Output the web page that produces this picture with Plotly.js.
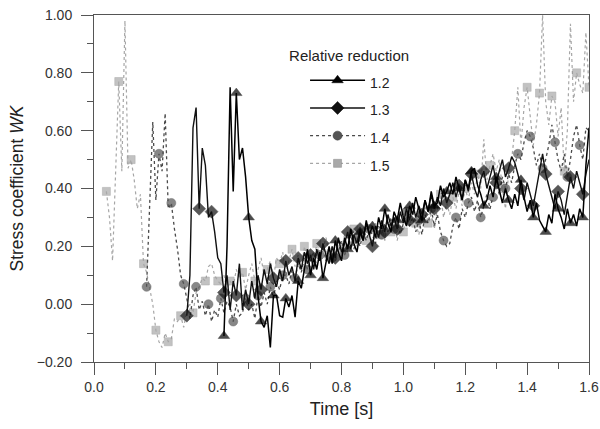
<!DOCTYPE html>
<html><head><meta charset="utf-8">
<script src="https://cdn.plot.ly/plotly-3.0.1.min.js"></script>
<style>html,body{margin:0;padding:0;background:#fff}</style>
</head><body>
<div id="chart" style="width:600px;height:429px"></div>
<script>
// ---- data ----
const seriesNames = ['1.2', '1.3', '1.4', '1.5'];
const timeStep = 0.01;

const start12 = 0.42;
const values12 = [
 -0.11,0.20,0.75,0.39,0.73,0.50,0.54,0.44,0.30,0.22,
 0.19,0.03,-0.06,-0.08,-0.04,-0.15,0.03,0.03,-0.04,-0.045,
 0.02,-0.01,0.03,-0.045,0.08,0.055,0.12,0.19,0.10,0.16,
 0.12,0.18,0.09,0.15,0.20,0.14,0.22,0.18,0.15,0.23,
 0.19,0.26,0.21,0.18,0.25,0.22,0.29,0.24,0.27,0.23,
 0.30,0.26,0.33,0.28,0.25,0.32,0.29,0.35,0.30,0.27,
 0.34,0.31,0.37,0.33,0.29,0.36,0.32,0.39,0.34,0.35,
 0.41,0.37,0.39,0.42,0.38,0.44,0.40,0.36,0.43,0.40,
 0.46,0.47,0.41,0.38,0.34,0.36,0.41,0.37,0.44,0.39,
 0.35,0.40,0.36,0.33,0.38,0.34,0.43,0.37,0.32,0.36,
 0.30,0.35,0.29,0.27,0.25,0.31,0.28,0.38,0.33,0.30,
 0.26,0.33,0.28,0.31,0.27,0.33,0.30,0.48,0.61
];

const start13 = 0.30;
const values13 = [
 -0.04,0.10,0.61,0.68,0.33,0.54,0.48,0.30,0.32,0.25,
 0.16,0.14,0.04,0.10,-0.02,0.08,0.03,0.14,-0.02,0.05,
 0.00,0.08,0.02,0.10,0.05,0.12,0.07,0.14,0.09,0.06,
 0.12,0.08,0.15,0.10,0.13,0.08,0.16,0.12,0.18,0.14,
 0.17,0.12,0.19,0.15,0.21,0.17,0.14,0.20,0.16,0.23,
 0.18,0.21,0.25,0.19,0.24,0.21,0.26,0.22,0.28,0.24,
 0.20,0.27,0.23,0.29,0.25,0.31,0.27,0.30,0.26,0.32,
 0.28,0.33,0.29,0.35,0.30,0.34,0.31,0.36,0.32,0.38,
 0.33,0.37,0.34,0.40,0.35,0.38,0.42,0.37,0.41,0.36,
 0.43,0.39,0.45,0.40,0.37,0.43,0.46,0.40,0.44,0.48,
 0.42,0.46,0.50,0.44,0.47,0.51,0.49,0.45,0.40,0.36,
 0.42,0.38,0.34,0.40,0.46,0.52,0.45,0.41,0.37,0.33,
 0.39,0.36,0.31,0.38,0.44,0.40,0.46,0.42,0.38,0.45,
 0.50
];

const start14 = 0.17;
const values14 = [
 0.06,0.35,0.63,0.36,0.52,0.46,0.66,0.33,0.35,0.26,
 0.19,0.10,0.07,0.02,-0.05,0.03,0.06,-0.02,0.01,-0.04,
 0.00,-0.06,-0.02,-0.045,0.02,-0.03,0.01,-0.01,-0.06,0.00,
 -0.04,-0.03,0.02,-0.02,0.00,-0.05,0.03,-0.01,0.04,0.00,
 0.06,0.02,0.08,0.05,0.10,0.10,0.07,0.12,0.09,0.14,
 0.11,0.16,0.12,0.15,0.18,0.13,0.17,0.20,0.15,0.19,
 0.16,0.21,0.18,0.22,0.17,0.20,0.24,0.19,0.23,0.20,
 0.25,0.22,0.26,0.24,0.21,0.27,0.24,0.28,0.25,0.30,
 0.26,0.29,0.24,0.28,0.32,0.27,0.30,0.25,0.29,0.24,
 0.31,0.28,0.33,0.27,0.31,0.25,0.22,0.20,0.21,0.27,
 0.30,0.26,0.33,0.30,0.35,0.37,0.32,0.36,0.30,0.34,
 0.38,0.33,0.37,0.42,0.38,0.44,0.40,0.45,0.42,0.48,
 0.52,0.50,0.56,0.60,0.58,0.54,0.48,0.52,0.47,0.50,
 0.55,0.62,0.56,0.50,0.46,0.52,0.44,0.50,0.58,0.62,
 0.55,0.50,0.61,0.60
];

const start15 = 0.04;
const values15 = [
 0.39,0.30,0.15,0.45,0.77,0.46,0.98,0.47,0.50,0.43,
 0.33,0.38,0.14,0.11,0.06,0.00,-0.09,-0.13,-0.15,-0.10,
 -0.13,-0.12,-0.05,-0.06,-0.04,-0.08,-0.02,0.00,-0.03,0.04,
 0.06,0.09,0.08,0.13,0.14,0.10,0.08,0.07,0.10,0.05,
 0.08,0.06,0.12,0.09,0.11,0.05,0.10,0.14,0.08,0.12,
 0.16,0.10,0.12,0.15,0.09,0.16,0.14,0.18,0.10,0.15,
 0.19,0.13,0.17,0.12,0.20,0.15,0.18,0.14,0.21,0.16,
 0.19,0.23,0.17,0.20,0.15,0.22,0.19,0.24,0.18,0.21,
 0.26,0.20,0.23,0.27,0.22,0.25,0.21,0.28,0.24,0.27,
 0.22,0.29,0.25,0.30,0.22,0.27,0.25,0.31,0.27,0.32,
 0.28,0.24,0.30,0.34,0.28,0.31,0.26,0.33,0.38,0.30,
 0.35,0.31,0.37,0.33,0.39,0.34,0.40,0.36,0.42,0.38,
 0.45,0.40,0.57,0.43,0.48,0.52,0.46,0.50,0.40,0.33,
 0.45,0.50,0.60,0.75,0.55,0.68,0.75,0.66,0.55,0.62,
 0.73,1.00,0.70,0.62,0.72,0.70,0.58,0.68,0.46,0.60,
 0.97,0.70,0.80,0.76,0.73,0.94,0.75
];

const xTickValues = [0, 0.2, 0.4, 0.6, 0.8, 1.0, 1.2, 1.4, 1.6];
const yTickValues = [-0.2, 0, 0.2, 0.4, 0.6, 0.8, 1.0];

// ---- build traces ----
function times(start, n) {
  const t = [];
  for (let i = 0; i < n; i++) t.push(+(start + i * timeStep).toFixed(3));
  return t;
}
const markerEvery = 4;
function sizes(n, s) {
  const a = [];
  for (let i = 0; i < n; i++) a.push(i % markerEvery === 0 ? s : 0);
  return a;
}
function makeTraces(name, rank, start, vals, style) {
  const line = {color: style.lineColor, width: style.width, dash: style.dash};
  const mline = {width: 0.5, color: style.markerLine};
  return [{
    type: 'scatter', mode: 'lines+markers', showlegend: false, legendgroup: name,
    x: times(start, vals.length), y: vals, line: line,
    marker: {symbol: style.symbol, color: style.markerColor, size: sizes(vals.length, style.size), line: mline}
  }, {
    // legend entry only (no data points)
    type: 'scatter', mode: 'lines+markers', legendgroup: name, legendrank: rank,
    name: '<span style="font-size:14px">' + name + '</span>',
    x: [null], y: [null], line: line,
    marker: {symbol: style.symbol, color: style.markerColor, size: style.size, line: mline}
  }];
}

const traces = [].concat(
  makeTraces(seriesNames[3], 4, start15, values15, {lineColor:'#a6a6a6', width:1.2, dash:'dot', symbol:'square', markerColor:'#a9a9a9', markerLine:'#888', size:8}),
  makeTraces(seriesNames[2], 3, start14, values14, {lineColor:'#4a4a4a', width:1.3, dash:'dot', symbol:'circle', markerColor:'#555', markerLine:'#333', size:9}),
  makeTraces(seriesNames[1], 2, start13, values13, {lineColor:'#111', width:1.4, dash:'solid', symbol:'diamond', markerColor:'#111', markerLine:'#111', size:10}),
  makeTraces(seriesNames[0], 1, start12, values12, {lineColor:'#000', width:1.5, dash:'solid', symbol:'triangle-up', markerColor:'#000', markerLine:'#000', size:10})
);

const axisCommon = {
  showline: true, linecolor: '#555', linewidth: 1, mirror: true,
  ticks: 'outside', ticklen: 12, tickwidth: 1, tickcolor: '#555',
  showgrid: false, zeroline: false,
  tickfont: {family: 'Liberation Sans, Arial, sans-serif', size: 14, color: '#333'}
};

const layout = {
  width: 600, height: 429,
  margin: {l: 94, r: 11, t: 15, b: 67},
  paper_bgcolor: '#fff', plot_bgcolor: '#fff',
  font: {family: 'Liberation Sans, Arial, sans-serif', color: '#222'},
  showlegend: true,
  xaxis: Object.assign({}, axisCommon, {
    range: [0, 1.6], tickvals: xTickValues, tickformat: '.1f',
    minor: {dtick: 0.1, tick0: 0, ticks: 'outside', ticklen: 6, tickcolor: '#555'},
    title: {text: 'Time [s]', font: {size: 18, color: '#222'}, standoff: 8}
  }),
  yaxis: Object.assign({}, axisCommon, {
    range: [-0.2, 1.0], tickvals: yTickValues, tickformat: '.2f',
    ticklabelstandoff: 6,
    minor: {dtick: 0.1, tick0: 0, ticks: 'outside', ticklen: 6, tickcolor: '#555'},
    title: {text: 'Stress coefficient <i>WK</i>', font: {size: 17.5, color: '#222'}, standoff: 8}
  }),
  legend: {
    x: 0.39, y: 0.945, xanchor: 'left', yanchor: 'top',
    bgcolor: 'rgba(0,0,0,0)', borderwidth: 0, tracegroupgap: 0,
    itemwidth: 55, indentation: 18,
    font: {size: 19, color: '#222'},
    title: {text: '<span style="font-size:15px">Relative reduction</span>', font: {size: 21, color: '#222'}}
  }
};

Plotly.newPlot('chart', traces, layout, {displayModeBar: false, staticPlot: true});
</script>
</body></html>
